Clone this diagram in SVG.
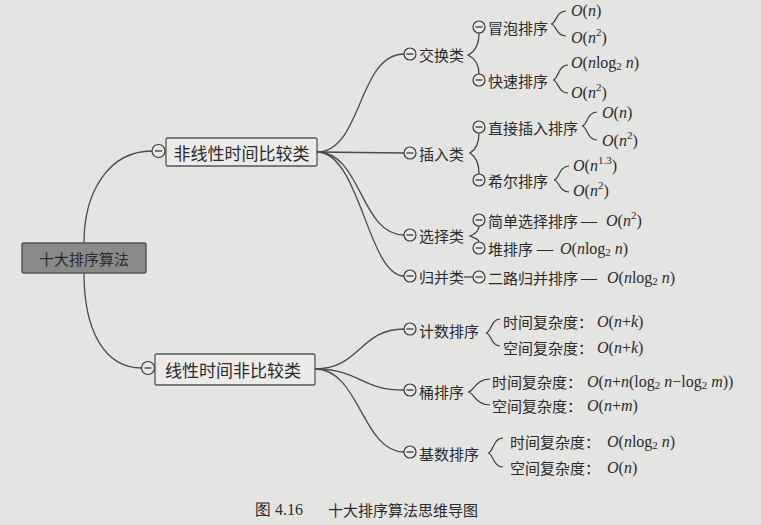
<svg xmlns="http://www.w3.org/2000/svg" width="761" height="525" viewBox="0 0 761 525">
<style>
.bg{fill:#e4e4e2}
.ln{fill:none;stroke:#4a4a4a;stroke-width:1.3}
.br{fill:none;stroke:#3a3a3a;stroke-width:1.2}
.cc{fill:#e8e8e6;stroke:#3a3a3a;stroke-width:1.2}
.mn{stroke:#3a3a3a;stroke-width:1.3}
.zh{font-family:"Noto Sans CJK SC","Noto Sans",sans-serif;font-size:15px;fill:#2b2b2b;dominant-baseline:central}
.big{font-size:17px}
.m{font-family:"Liberation Serif","DejaVu Serif",serif;font-size:16px;fill:#2b2b2b;dominant-baseline:central}
.i{font-style:italic}
.s{font-size:11px}
.box{fill:#ebebe9;stroke:#555;stroke-width:1.3}
.root{fill:#8a8a88;stroke:#555;stroke-width:1.5}
</style>
<rect class="bg" x="0" y="0" width="761" height="525"/>

<g id="connectors">
<path class="ln" d="M84,243 C84,190 110,151 152,151"/>
<path class="ln" d="M84,273 C84,330 104,368 142,368"/>
<path class="ln" d="M317,152 C362,152 358,54 404,54"/>
<path class="ln" d="M317,152 L404,153"/>
<path class="ln" d="M317,152 C362,152 360,235 404,235"/>
<path class="ln" d="M317,152 C360,152 368,276 404,276"/>
<path class="ln" d="M315,369 C360,369 360,329 404,329"/>
<path class="ln" d="M315,369 C360,369 360,390 404,390"/>
<path class="ln" d="M315,369 C360,369 362,452 404,452"/>
<path class="br" d="M479,33 C479,46 474,52 468,55 C474,58 479,63 479,74"/>
<path class="br" d="M479,133 C479,145 475,150 470,153 C475,156 479,162 479,174"/>
<path class="br" d="M479,226 C479,231 475,234 470,236 C475,238 479,239 479,242"/>
<path class="ln" d="M464,277 L473,277"/>
<path class="br" d="M566,11 C556,11 556,24 551,24 C556,24 556,36 566,36"/>
<path class="br" d="M568,65 C558,65 558,80 553,80 C558,80 558,93 568,93"/>
<path class="br" d="M597,112 C587,112 587,126 582,126 C587,126 587,140 597,140"/>
<path class="br" d="M569,166 C559,166 559,180 554,180 C559,180 559,192 569,192"/>
<path class="br" d="M500,319 C491,319 491,333 486,333 C491,333 491,346 500,346"/>
<path class="br" d="M490,379 C475,379 474,392 468,392 C474,392 475,405 490,405"/>
<path class="br" d="M503,438 C493,438 493,453 488,453 C493,453 493,467 503,467"/>
</g>

<g id="root">
<rect class="root" x="22" y="243" width="124" height="30" rx="2"/>
<text class="zh" x="84" y="258" text-anchor="middle" font-size="16">十大排序算法</text>
</g>

<g id="n-nonlinear">
<rect class="box" x="166" y="138" width="151" height="28" rx="2"/>
<circle class="cc" cx="158.5" cy="151" r="6.5"/><line class="mn" x1="155" y1="151" x2="162" y2="151"/>
<text class="zh big" x="241.5" y="152" text-anchor="middle">非线性时间比较类</text>
</g>

<g id="n-linear">
<rect class="box" x="155" y="354" width="160" height="31" rx="2"/>
<circle class="cc" cx="148" cy="368" r="6.5"/><line class="mn" x1="144.5" y1="368" x2="151.5" y2="368"/>
<text class="zh big" x="233" y="369" text-anchor="middle">线性时间非比较类</text>
</g>

<g id="n-exchange">
<circle class="cc" cx="410" cy="54" r="6"/><line class="mn" x1="406.5" y1="54" x2="413.5" y2="54"/>
<text class="zh" x="419" y="54">交换类</text>
</g>
<g id="n-bubble">
<circle class="cc" cx="479" cy="27" r="6"/><line class="mn" x1="475.5" y1="27" x2="482.5" y2="27"/>
<text class="zh" x="488" y="27">冒泡排序</text>
<text class="m" x="571" y="10"><tspan class="i">O</tspan>(<tspan class="i">n</tspan>)</text>
<text class="m" x="571" y="37"><tspan class="i">O</tspan>(<tspan class="i">n</tspan><tspan class="s" dy="-5">2</tspan><tspan dy="5">)</tspan></text>
</g>
<g id="n-quick">
<circle class="cc" cx="479" cy="80" r="6"/><line class="mn" x1="475.5" y1="80" x2="482.5" y2="80"/>
<text class="zh" x="488" y="80">快速排序</text>
<text class="m" x="571" y="62"><tspan class="i">O</tspan>(<tspan class="i">n</tspan>log<tspan class="s" dy="4">2</tspan><tspan dy="-4" class="i"> n</tspan>)</text>
<text class="m" x="571" y="92"><tspan class="i">O</tspan>(<tspan class="i">n</tspan><tspan class="s" dy="-5">2</tspan><tspan dy="5">)</tspan></text>
</g>

<g id="n-insert">
<circle class="cc" cx="410" cy="153" r="6"/><line class="mn" x1="406.5" y1="153" x2="413.5" y2="153"/>
<text class="zh" x="419" y="153">插入类</text>
</g>
<g id="n-direct">
<circle class="cc" cx="479" cy="127" r="6"/><line class="mn" x1="475.5" y1="127" x2="482.5" y2="127"/>
<text class="zh" x="488" y="127">直接插入排序</text>
<text class="m" x="602" y="112"><tspan class="i">O</tspan>(<tspan class="i">n</tspan>)</text>
<text class="m" x="602" y="140"><tspan class="i">O</tspan>(<tspan class="i">n</tspan><tspan class="s" dy="-5">2</tspan><tspan dy="5">)</tspan></text>
</g>
<g id="n-shell">
<circle class="cc" cx="479" cy="180" r="6"/><line class="mn" x1="475.5" y1="180" x2="482.5" y2="180"/>
<text class="zh" x="488" y="180">希尔排序</text>
<text class="m" x="573" y="165"><tspan class="i">O</tspan>(<tspan class="i">n</tspan><tspan class="s" dy="-5">1.3</tspan><tspan dy="5">)</tspan></text>
<text class="m" x="573" y="190"><tspan class="i">O</tspan>(<tspan class="i">n</tspan><tspan class="s" dy="-5">2</tspan><tspan dy="5">)</tspan></text>
</g>

<g id="n-select">
<circle class="cc" cx="410" cy="235" r="6"/><line class="mn" x1="406.5" y1="235" x2="413.5" y2="235"/>
<text class="zh" x="419" y="235">选择类</text>
</g>
<g id="n-simple">
<circle class="cc" cx="479" cy="220" r="6"/><line class="mn" x1="475.5" y1="220" x2="482.5" y2="220"/>
<text class="zh" x="488" y="220">简单选择排序</text>
<text class="m" x="581" y="220">—</text>
<text class="m" x="606" y="220"><tspan class="i">O</tspan>(<tspan class="i">n</tspan><tspan class="s" dy="-5">2</tspan><tspan dy="5">)</tspan></text>
</g>
<g id="n-heap">
<circle class="cc" cx="479" cy="248" r="6"/><line class="mn" x1="475.5" y1="248" x2="482.5" y2="248"/>
<text class="zh" x="488" y="248">堆排序</text>
<text class="m" x="537" y="248">—</text>
<text class="m" x="560" y="248"><tspan class="i">O</tspan>(<tspan class="i">n</tspan>log<tspan class="s" dy="4">2</tspan><tspan dy="-4" class="i"> n</tspan>)</text>
</g>

<g id="n-merge">
<circle class="cc" cx="410" cy="276" r="6"/><line class="mn" x1="406.5" y1="276" x2="413.5" y2="276"/>
<text class="zh" x="419" y="276">归并类</text>
</g>
<g id="n-twoway">
<circle class="cc" cx="479" cy="277" r="6"/><line class="mn" x1="475.5" y1="277" x2="482.5" y2="277"/>
<text class="zh" x="488" y="277">二路归并排序</text>
<text class="m" x="581" y="277">—</text>
<text class="m" x="607" y="277"><tspan class="i">O</tspan>(<tspan class="i">n</tspan>log<tspan class="s" dy="4">2</tspan><tspan dy="-4" class="i"> n</tspan>)</text>
</g>

<g id="n-counting">
<circle class="cc" cx="410" cy="329" r="6"/><line class="mn" x1="406.5" y1="329" x2="413.5" y2="329"/>
<text class="zh" x="419" y="330">计数排序</text>
<text class="zh" x="503" y="321">时间复杂度：</text>
<text class="m" x="597" y="321"><tspan class="i">O</tspan>(<tspan class="i">n</tspan>+<tspan class="i">k</tspan>)</text>
<text class="zh" x="503" y="347">空间复杂度：</text>
<text class="m" x="597" y="347"><tspan class="i">O</tspan>(<tspan class="i">n</tspan>+<tspan class="i">k</tspan>)</text>
</g>
<g id="n-bucket">
<circle class="cc" cx="410" cy="390" r="6"/><line class="mn" x1="406.5" y1="390" x2="413.5" y2="390"/>
<text class="zh" x="419" y="391">桶排序</text>
<text class="zh" x="492" y="381">时间复杂度：</text>
<text class="m" x="587" y="381"><tspan class="i">O</tspan>(<tspan class="i">n</tspan>+<tspan class="i">n</tspan>(log<tspan class="s" dy="4">2</tspan><tspan dy="-4" class="i"> n</tspan>−log<tspan class="s" dy="4">2</tspan><tspan dy="-4" class="i"> m</tspan>))</text>
<text class="zh" x="492" y="405">空间复杂度：</text>
<text class="m" x="587" y="405"><tspan class="i">O</tspan>(<tspan class="i">n</tspan>+<tspan class="i">m</tspan>)</text>
</g>
<g id="n-radix">
<circle class="cc" cx="410" cy="452" r="6"/><line class="mn" x1="406.5" y1="452" x2="413.5" y2="452"/>
<text class="zh" x="419" y="453">基数排序</text>
<text class="zh" x="510" y="441">时间复杂度：</text>
<text class="m" x="607" y="441"><tspan class="i">O</tspan>(<tspan class="i">n</tspan>log<tspan class="s" dy="4">2</tspan><tspan dy="-4" class="i"> n</tspan>)</text>
<text class="zh" x="510" y="467">空间复杂度：</text>
<text class="m" x="607" y="467"><tspan class="i">O</tspan>(<tspan class="i">n</tspan>)</text>
</g>

<g id="caption">
<text class="m" x="255" y="509" font-size="17">图 4.16</text>
<text class="zh" x="328" y="509" font-size="16.5">十大排序算法思维导图</text>
</g>
</svg>
